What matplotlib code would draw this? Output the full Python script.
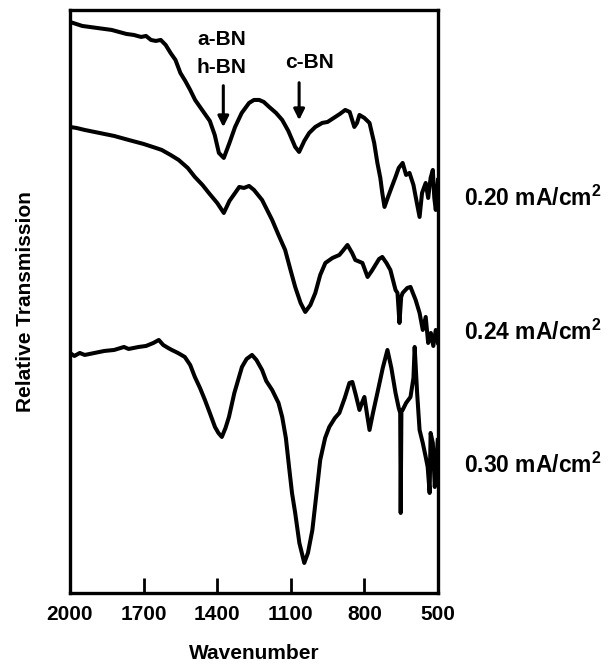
import matplotlib
matplotlib.use("Agg")
import matplotlib.pyplot as plt

plt.rcParams['font.family'] = ['Liberation Sans', 'DejaVu Sans']
plt.rcParams['font.weight'] = 'bold'
plt.rcParams['mathtext.fontset'] = 'custom'
plt.rcParams['mathtext.bf'] = 'Liberation Sans:bold'
plt.rcParams['mathtext.rm'] = 'Liberation Sans:bold'

# wavenumber (cm-1) and relative transmission (arbitrary units, offset curves)
w_020 = [2000,1975,1950,1920,1890,1860,1830,1800,1770,1740,1710,1690,1670,1650,1630,1610,1590,1570,1550,1530,
         1510,1490,1470,1450,1430,1410,1393,1373,1350,1327,1300,1270,1250,1229,1210,1188,1160,1135,1110,1082,
         1066,1045,1025,1000,972,950,925,900,878,860,841,830,820,800,779,760,747,735,727,718,705,690,673,660,
         644,630,616,600,590,575,565,550,540,530,521,515,509,500]
t_020 = [571,569,567,566,565,564,563,561,559,558,556,557,553,552,553,548,540,533,520,512,
         503,493,486,479,472,458,440,435,450,466,480,490,493,493,491,486,480,473,462,446,
         441,452,460,466,470,471,475,479,483,481,466,470,478,475,470,450,430,415,400,386,395,405,416,425,
         430,418,420,408,395,376,400,410,395,415,423,395,383,413]

w_024 = [2000,1974,1940,1900,1860,1820,1761,1700,1650,1626,1590,1557,1520,1491,1460,1434,1400,1373,1350,1327,
         1310,1291,1270,1250,1217,1176,1150,1123,1100,1082,1060,1041,1020,1000,980,959,930,902,885,869,
         850,837,808,787,770,755,740,727,710,694,673,665,657,650,644,625,612,591,575,562,
         550,540,529,519,509,500]
t_024 = [466,465,463,461,459,457,453,449,445,443,438,433,425,416,408,400,390,380,392,400,
         406,405,407,403,393,373,358,343,322,306,290,281,288,300,318,330,335,338,343,348,
         340,333,330,316,322,328,334,336,330,323,303,300,270,296,300,305,306,293,280,263,
         276,250,260,247,263,250]

w_030 = [2000,1982,1960,1940,1900,1860,1820,1780,1761,1720,1690,1660,1638,1620,1600,1585,1560,1532,1510,1491,
         1470,1450,1430,1409,1395,1381,1366,1352,1330,1299,1280,1258,1240,1217,1200,1176,1150,1135,1120,1107,
         1095,1082,1065,1045,1030,1012,995,980,960,943,920,902,880,861,849,835,820,810,800,790,
         779,765,747,725,706,690,673,660,654,652,649,644,630,612,600,595,585,575,562,550,
         542,534,530,521,513,507,501]
t_030 = [240,237,240,238,240,242,243,246,244,246,247,250,253,248,245,243,240,236,228,216,
         205,193,180,166,160,156,165,176,200,226,234,238,233,223,212,203,190,176,155,126,
         100,80,50,30,40,63,100,133,155,166,175,180,195,210,211,198,183,190,196,180,
         163,180,200,225,243,225,200,185,180,80,183,183,190,196,215,246,200,163,150,136,
         126,100,160,150,106,130,153]

labels = [r'0.20 mA/cm$^{\mathbf{2}}$', r'0.24 mA/cm$^{\mathbf{2}}$', r'0.30 mA/cm$^{\mathbf{2}}$']
label_y = [395, 261, 128]
ticks = [2000, 1700, 1400, 1100, 800, 500]

fig = plt.figure(figsize=(6.16, 6.72), dpi=100)
ax = fig.add_axes([0.1136, 0.1176, 0.5974, 0.8676])

for w, t in [(w_020, t_020), (w_024, t_024), (w_030, t_030)]:
    ax.plot(w, t, color='black', lw=2.9, solid_joinstyle='round')

ax.set_xlim(2000, 500)
ax.set_ylim(0, 583)
ax.set_xticks(ticks)
ax.set_xticklabels([str(v) for v in ticks])
ax.set_yticks([])
ax.tick_params(axis='x', direction='in', length=11, width=2, pad=9, labelsize=15)
for s in ax.spines.values():
    s.set_linewidth(2.4)

ax.set_xlabel('Wavenumber', fontsize=15, fontweight='bold', labelpad=14)
ax.set_ylabel('Relative Transmission', fontsize=15, fontweight='bold', labelpad=25)

for lab, y in zip(labels, label_y):
    ax.text(1.07, y, lab, transform=ax.get_yaxis_transform(), fontsize=16.5,
            fontweight='bold', va='center', ha='left')

# band markers
ax.text(1381, 553, 'a-BN', ha='center', va='center', fontsize=15, fontweight='bold')
ax.text(1381, 525, 'h-BN', ha='center', va='center', fontsize=15, fontweight='bold')
ax.text(1025, 530, 'c-BN', ha='center', va='center', fontsize=15, fontweight='bold')
ax.annotate('', xy=(1375, 463), xytext=(1375, 510),
            arrowprops=dict(arrowstyle='-|>', lw=2.2, color='black', mutation_scale=16))
ax.annotate('', xy=(1066, 470), xytext=(1066, 513),
            arrowprops=dict(arrowstyle='-|>', lw=2.2, color='black', mutation_scale=16))

fig.savefig('out.png', dpi=100)
